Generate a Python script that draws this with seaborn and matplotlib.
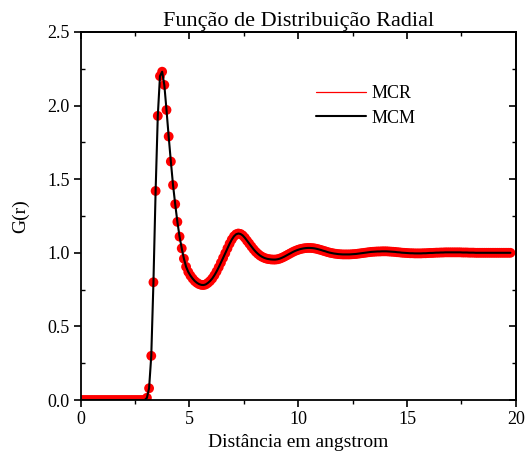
import numpy as np
import pandas as pd
import matplotlib
matplotlib.use("Agg")
import matplotlib.pyplot as plt
from matplotlib.lines import Line2D
from matplotlib.ticker import MultipleLocator, FormatStrFormatter
import seaborn as sns

# Radial distribution function g(r), sampled every 0.1 angstrom starting at 0.05
r_start = 0.05
r_step = 0.1

g_mcr = [
    # 0.05 - 2.95
    0.0, 0.0, 0.0, 0.0, 0.0, 0.0, 0.0, 0.0, 0.0, 0.0,
    0.0, 0.0, 0.0, 0.0, 0.0, 0.0, 0.0, 0.0, 0.0, 0.0,
    0.0, 0.0, 0.0, 0.0, 0.0, 0.0, 0.0, 0.0, 0.0, 0.0,
    # 3.05 - 3.95
    0.015, 0.08, 0.30, 0.80, 1.42, 1.93, 2.20, 2.23, 2.14, 1.97,
    # 4.05 - 4.95
    1.79, 1.62, 1.46, 1.33, 1.21, 1.11, 1.03, 0.96, 0.905, 0.870,
    # 5.05 - 5.95
    0.845, 0.825, 0.808, 0.796, 0.787, 0.782, 0.781, 0.785, 0.795, 0.808,
    # 6.05 - 6.95
    0.825, 0.847, 0.873, 0.902, 0.933, 0.965, 0.997, 1.030, 1.062, 1.090,
    # 7.05 - 7.95
    1.112, 1.126, 1.131, 1.128, 1.118, 1.102, 1.082, 1.063, 1.043, 1.024,
    # 8.05 - 8.95
    1.007, 0.993, 0.981, 0.972, 0.965, 0.960, 0.957, 0.955, 0.954, 0.954,
    # 9.05 - 9.95
    0.956, 0.960, 0.966, 0.973, 0.981, 0.989, 0.997, 1.005, 1.012, 1.018,
    # 10.05 - 10.95
    1.023, 1.027, 1.030, 1.032, 1.033, 1.033, 1.032, 1.030, 1.027, 1.023,
    # 11.05 - 11.95
    1.019, 1.014, 1.010, 1.005, 1.001, 0.998, 0.995, 0.993, 0.991, 0.990,
    # 12.05 - 12.95
    0.989, 0.989, 0.989, 0.989, 0.990, 0.991, 0.992, 0.994, 0.996, 0.998,
    # 13.05 - 13.95
    1.000, 1.002, 1.004, 1.006, 1.007, 1.008, 1.009, 1.009, 1.010, 1.010,
    # 14.05 - 14.95
    1.010, 1.009, 1.008, 1.007, 1.006, 1.004, 1.003, 1.001, 1.000, 0.999,
    # 15.05 - 15.95
    0.998, 0.997, 0.997, 0.996, 0.996, 0.996, 0.996, 0.997, 0.997, 0.998,
    # 16.05 - 16.95
    0.999, 0.999, 1.000, 1.001, 1.001, 1.002, 1.002, 1.003, 1.003, 1.003,
    # 17.05 - 17.95
    1.003, 1.003, 1.003, 1.003, 1.003, 1.002, 1.002, 1.002, 1.001, 1.001,
    # 18.05 - 18.95
    1.001, 1.000, 1.000, 1.000, 1.000, 1.000, 1.000, 1.000, 1.000, 1.000,
    # 19.05 - 19.75
    1.000, 1.000, 1.000, 1.000, 1.000, 1.000, 1.000, 1.000,
]

# The MCM curve coincides with the MCR result
g_mcm = list(g_mcr)

series_names = ["MCR", "MCM"]
title = "Função de Distribuição Radial"
xlabel = "Distância em angstrom"
ylabel = "G(r)"

r = r_start + r_step * np.arange(len(g_mcr))
df_mcr = pd.DataFrame({"r": r, "g": g_mcr})
df_mcm = pd.DataFrame({"r": r, "g": g_mcm})

sns.set_style("ticks")
plt.rcParams["font.family"] = ["Liberation Serif", "DejaVu Serif"]
plt.rcParams.update({
    "axes.linewidth": 1.3,
    "axes.edgecolor": "black",
    "axes.labelcolor": "black",
    "text.color": "black",
    "xtick.color": "black",
    "ytick.color": "black",
})

fig = plt.figure(figsize=(5.28, 4.63), dpi=100)
ax = fig.add_axes([0.1525, 0.136, 0.977 - 0.1525, 0.931 - 0.136])

sns.scatterplot(data=df_mcr, x="r", y="g", ax=ax, color="#ff0000", s=50,
                edgecolor="none", linewidth=0, legend=False, zorder=2)
sns.lineplot(data=df_mcm, x="r", y="g", ax=ax, color="black", linewidth=1.5,
             legend=False, zorder=3)

ax.set_xlim(0, 20)
ax.set_ylim(0, 2.5)
ax.xaxis.set_major_locator(MultipleLocator(5))
ax.xaxis.set_minor_locator(MultipleLocator(2.5))
ax.yaxis.set_major_locator(MultipleLocator(0.5))
ax.yaxis.set_minor_locator(MultipleLocator(0.25))
ax.xaxis.set_major_formatter(FormatStrFormatter("%g"))
ax.yaxis.set_major_formatter(FormatStrFormatter("%.1f"))

ax.tick_params(axis="x", which="major", direction="out", length=5, width=1.2,
               labelsize=13, pad=3)
ax.tick_params(axis="x", which="minor", direction="out", length=3, width=1.0)
ax.tick_params(axis="y", which="major", direction="out", length=5, width=1.2,
               labelsize=13, pad=3)
ax.tick_params(axis="y", which="minor", direction="in", length=3, width=1.0)

# Mirrored inward ticks on the top and right frame
top = ax.secondary_xaxis("top")
top.xaxis.set_major_locator(MultipleLocator(5))
top.xaxis.set_minor_locator(MultipleLocator(2.5))
top.tick_params(which="major", direction="in", length=5, width=1.2, labeltop=False)
top.tick_params(which="minor", direction="in", length=3, width=1.0)
right = ax.secondary_yaxis("right")
right.yaxis.set_major_locator(MultipleLocator(0.5))
right.yaxis.set_minor_locator(MultipleLocator(0.25))
right.tick_params(which="major", direction="in", length=5, width=1.2, labelright=False)
right.tick_params(which="minor", direction="in", length=3, width=1.0)

ax.set_title(title, fontsize=16, pad=4)
ax.set_xlabel(xlabel, fontsize=14, labelpad=4)
ax.set_ylabel(ylabel, fontsize=14, labelpad=13)

handles = [
    Line2D([], [], color="#ff0000", linewidth=0.9),
    Line2D([], [], color="black", linewidth=1.5),
]
ax.legend(handles, series_names, loc="upper left", bbox_to_anchor=(0.525, 0.875),
          frameon=False, fontsize=13, handlelength=2.77, handletextpad=0.3,
          labelspacing=0.42, borderaxespad=0)

fig.savefig("out.png", dpi=100)
